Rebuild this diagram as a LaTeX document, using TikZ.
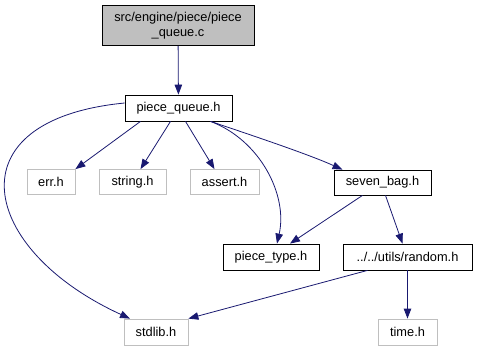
\documentclass[tikz,border=0pt]{standalone}
\usepackage{fontspec}
\setmainfont{Liberation Sans}
\usepackage{tikz}
\usetikzlibrary{arrows.meta,positioning}
\usepackage{xcolor}
\definecolor{edgeblue}{RGB}{25,25,112}
\definecolor{undoc}{RGB}{191,191,191}

\begin{document}
\begin{tikzpicture}[
  x=1pt, y=-1pt,
  file/.style={draw=black, line width=0.8pt, minimum height=26pt, inner sep=0pt, align=center, font=\fontsize{12.8}{15}\selectfont},
  ext/.style={file, draw=undoc},
  root/.style={file, fill=undoc, minimum height=40pt},
  arr/.style={draw=edgeblue, line width=0.8pt, -{Triangle[length=10pt,width=7.5pt]}}
]
  \useasboundingbox (0,0) rectangle (477,351);
  \node[root, minimum width=152pt] (src) at (178,25.5) {src/engine/piece/piece\\\_queue.c};
  \node[file, minimum width=107pt] (pq) at (178.5,108) {piece\_queue.h};
  \node[ext, minimum width=48pt, minimum height=25pt] (err) at (51,182) {err.h};
  \node[ext, minimum width=67pt, minimum height=25pt] (string) at (132.5,182) {string.h};
  \node[ext, minimum width=69pt, minimum height=25pt] (assert) at (224.5,182) {assert.h};
  \node[file, minimum width=97pt, minimum height=25pt] (bag) at (382.5,182.5) {seven\_bag.h};
  \node[file, minimum width=96pt] (ptype) at (271,257) {piece\_type.h};
  \node[file, minimum width=129pt] (rand) at (407.5,257) {../../utils/random.h};
  \node[ext, minimum width=64pt] (stdlib) at (156,332) {stdlib.h};
  \node[ext, minimum width=59pt] (time) at (407.5,332) {time.h};

  \draw[arr] (src) -- (pq);
  \draw[arr] ([xshift=-38pt]pq.south) -- (err.north east);
  \draw[arr] ([xshift=-8pt]pq.south) -- ([xshift=8pt]string.north);
  \draw[arr] ([xshift=7pt]pq.south) -- ([xshift=-10pt]assert.north);
  \draw[arr] ([xshift=32pt]pq.south) .. controls (260,138) and (310,155) .. ([xshift=-40pt]bag.north);
  \draw[arr] ([xshift=32pt]pq.south) .. controls (260,140) and (288,195) .. ([xshift=6pt]ptype.north);
  \draw[arr] ([yshift=5pt]pq.west) .. controls (-50,120) and (-20,250) .. ([xshift=-26pt]stdlib.north);
  \draw[arr] ([xshift=-20pt]bag.south) -- ([xshift=19pt]ptype.north);
  \draw[arr] ([xshift=3pt]bag.south) -- ([xshift=-5pt]rand.north);
  \draw[arr] ([xshift=-40pt]rand.south) -- (stdlib.north east);
  \draw[arr] (rand) -- (time);
\end{tikzpicture}
\end{document}
